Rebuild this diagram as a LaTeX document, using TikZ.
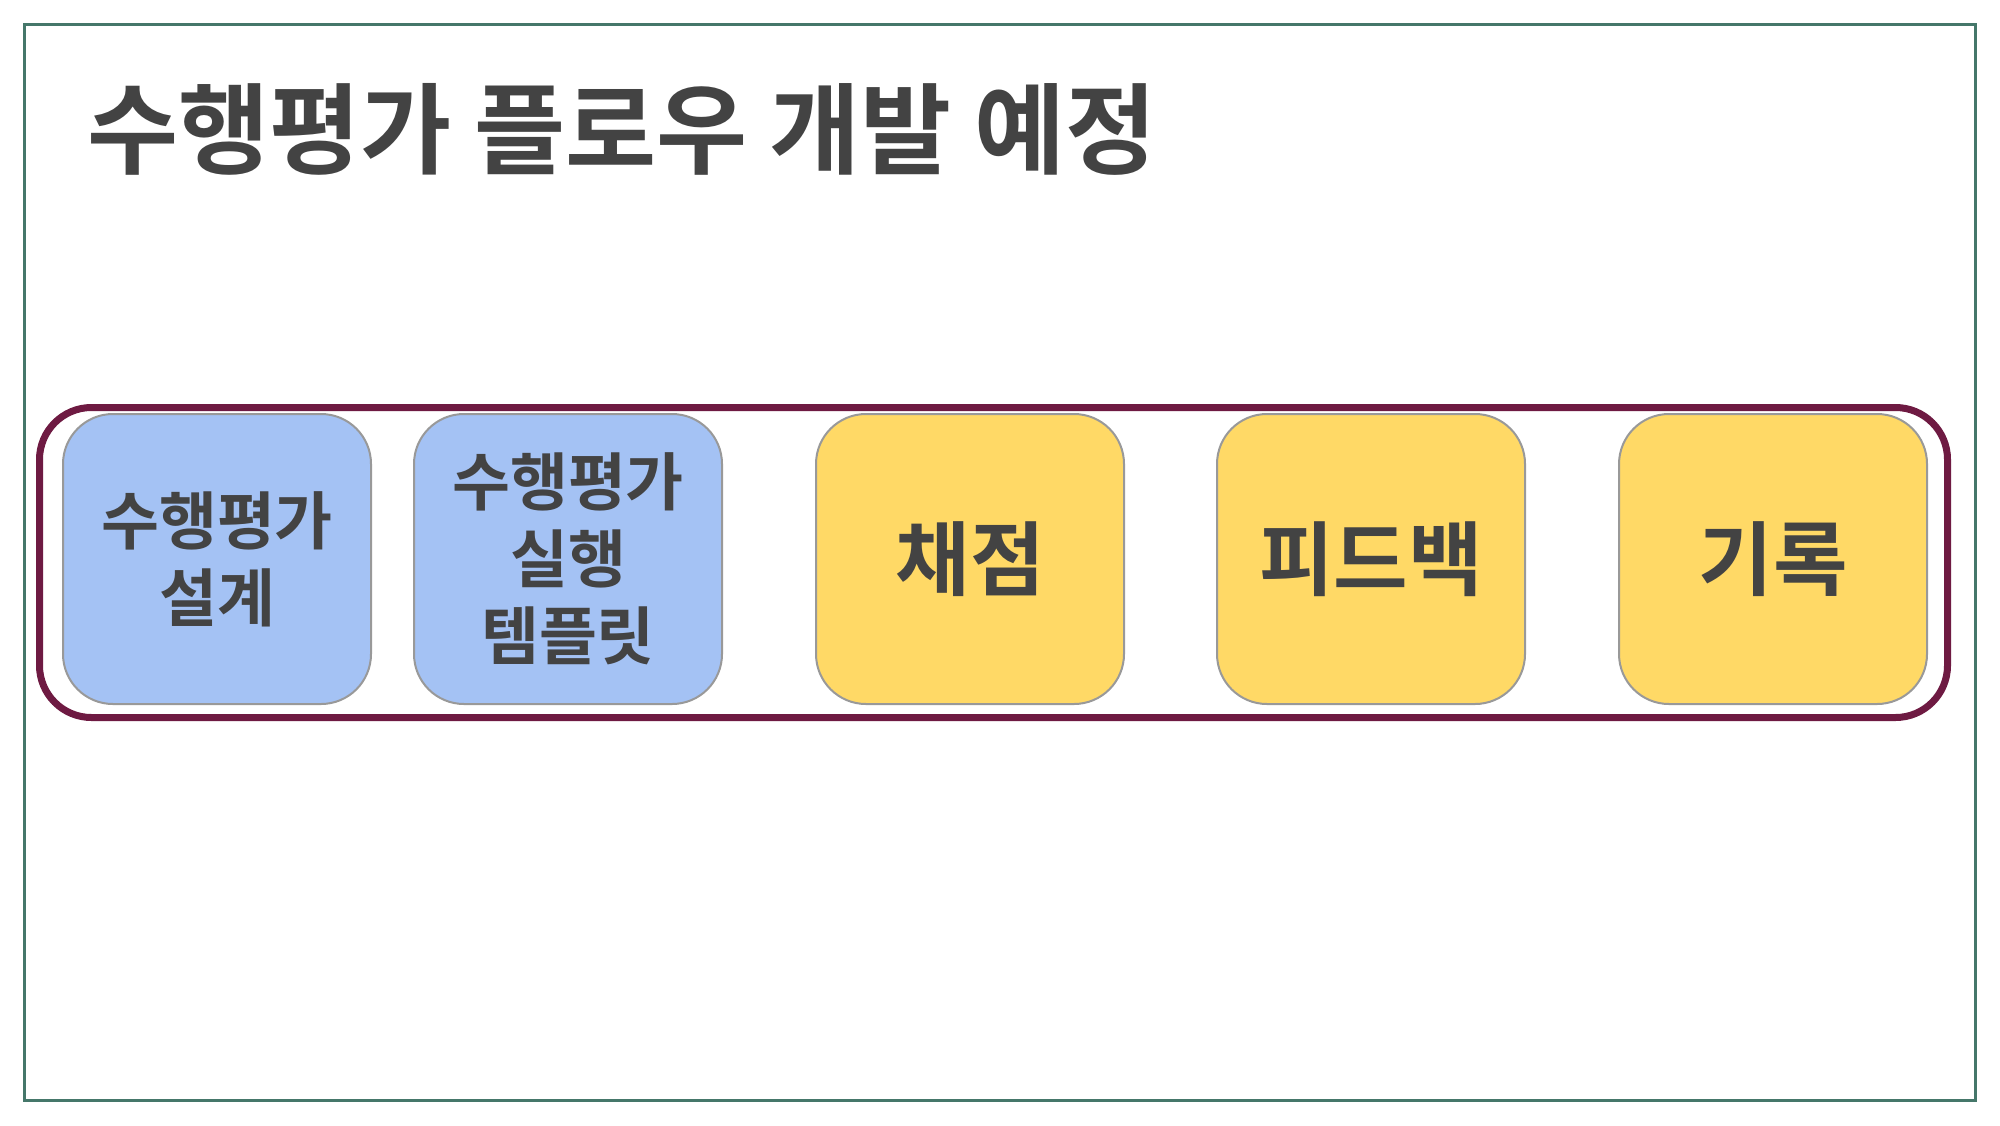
\documentclass[tikz,border=0pt]{standalone}
\usepackage{fontspec}
\newfontfamily\kr{Noto Sans CJK KR}[BoldFont={Noto Sans CJK KR Bold}]
\definecolor{frame}{HTML}{45776A}
\definecolor{plum}{HTML}{6E1A42}
\definecolor{bluefill}{HTML}{A4C2F4}
\definecolor{yellowfill}{HTML}{FFD966}
\definecolor{txt}{HTML}{434343}
\definecolor{edge}{HTML}{999999}
\tikzset{
  card/.style={draw=edge, line width=1pt, rounded corners=25pt, minimum width=154pt, minimum height=145pt, inner sep=0pt, align=center, text=txt, font=\kr\bfseries},
  bluecard/.style={card, fill=bluefill, font=\kr\bfseries\fontsize{31.5}{38.5}\selectfont},
  yellowcard/.style={card, fill=yellowfill, font=\kr\bfseries\fontsize{40.5}{46}\selectfont},
}
\begin{document}
\begin{tikzpicture}[x=0.5pt,y=-0.5pt]
\useasboundingbox (0,0) rectangle (2000,1125);
\fill[white] (0,0) rectangle (2000,1125);
\draw[frame, line width=1.5pt] (24,24) rectangle (1975,1100);
\node[anchor=west, inner sep=0pt, text=txt, font=\kr\bfseries\fontsize{49.5}{55}\selectfont] (title) at (87,129) {수행평가 플로우 개발 예정};
\node[draw=plum, line width=3.5pt, rounded corners=26pt, minimum width=954pt, minimum height=155pt, inner sep=0pt] (group) at (993.5,562.5) {};
\node[bluecard] (b1) at (217,559) {수행평가\\설계};
\node[bluecard] (b2) at (568,559) {수행평가\\실행\\템플릿};
\node[yellowcard] (b3) at (970,559) {채점};
\node[yellowcard] (b4) at (1371,559) {피드백};
\node[yellowcard] (b5) at (1773,559) {기록};
\end{tikzpicture}
\end{document}
